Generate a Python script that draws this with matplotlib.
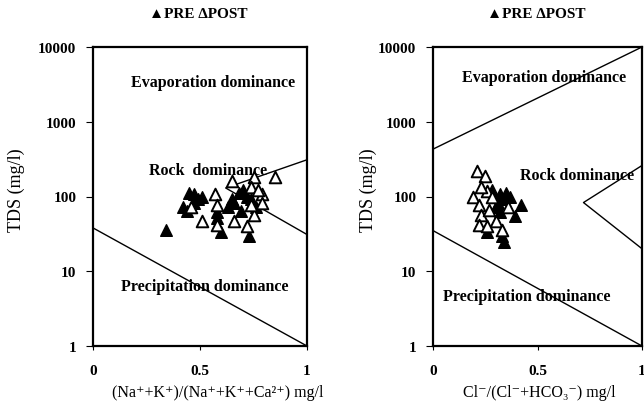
import matplotlib
matplotlib.use("Agg")
import matplotlib.pyplot as plt

plt.rcParams['font.family'] = ['Liberation Serif', 'DejaVu Serif', 'DejaVu Sans']
plt.rcParams['font.weight'] = 'bold'

# Gibbs plot 1: (Na+K)/(Na+K+Ca) vs TDS
cat_pre_x = [0.34, 0.45, 0.47, 0.51, 0.42, 0.44, 0.47, 0.49, 0.58, 0.58, 0.60,
             0.63, 0.65, 0.66, 0.68, 0.70, 0.69, 0.72, 0.73, 0.74, 0.76]
cat_pre_y = [36, 112, 107, 100, 73, 63, 83, 92, 62, 52, 34,
             73, 92, 83, 112, 124, 63, 100, 30, 92, 73]
cat_post_x = [0.65, 0.75, 0.85, 0.74, 0.57, 0.58, 0.46, 0.51, 0.58, 0.66,
              0.72, 0.75, 0.74, 0.79, 0.79, 0.77]
cat_post_y = [160, 185, 180, 135, 107, 78, 72, 47, 42, 47,
              40, 57, 78, 107, 83, 124]

# Gibbs plot 2: Cl/(Cl+HCO3) vs TDS
an_pre_x = [0.28, 0.32, 0.35, 0.31, 0.33, 0.42, 0.39, 0.26, 0.33, 0.34,
            0.32, 0.30, 0.37]
an_pre_y = [124, 107, 112, 83, 92, 78, 55, 34, 30, 25, 62, 72, 97]
an_post_x = [0.21, 0.25, 0.19, 0.22, 0.26, 0.23, 0.27, 0.22, 0.30, 0.33,
             0.36, 0.28, 0.26, 0.23]
an_post_y = [218, 186, 100, 78, 117, 57, 67, 42, 47, 36, 73, 100, 40, 135]

# boundary curves
cat_upper_x = [1.0, 0.62, 1.0]
cat_upper_y = [310, 130, 31]
cat_lower_x = [0.0, 1.0]
cat_lower_y = [38, 1]
an_top_x = [0.0, 1.0]
an_top_y = [430, 10000]
an_mid_x = [1.0, 0.72, 1.0]
an_mid_y = [260, 83, 20]
an_lower_x = [0.0, 1.0]
an_lower_y = [35, 1]

fig = plt.figure(figsize=(6.44, 4.06), dpi=100)
ax1 = fig.add_axes([93 / 644, 59 / 406, 214 / 644, 299 / 406])
ax2 = fig.add_axes([433 / 644, 59 / 406, 209 / 644, 299 / 406])


def style(ax):
    ax.set_yscale('log')
    ax.set_xlim(0, 1)
    ax.set_ylim(1, 10000)
    ax.set_yticks([1, 10, 100, 1000, 10000])
    ax.set_yticklabels(['1', '10', '100', '1000', '10000'])
    ax.set_xticks([0, 0.5, 1])
    ax.set_xticklabels(['0', '0.5', '1'])
    ax.minorticks_off()
    ax.tick_params(direction='out', length=5, width=0.8, labelsize=11, pad=7)
    ax.tick_params(axis='x', length=3, pad=10)
    for s in ax.spines.values():
        s.set_linewidth(1.6)


style(ax1)
style(ax2)

ax1.plot(cat_upper_x, cat_upper_y, color='black', lw=1)
ax1.plot(cat_lower_x, cat_lower_y, color='black', lw=1)
ax2.plot(an_top_x, an_top_y, color='black', lw=1)
ax2.plot(an_mid_x, an_mid_y, color='black', lw=1)
ax2.plot(an_lower_x, an_lower_y, color='black', lw=1)

for ax, px, py, qx, qy in [(ax1, cat_pre_x, cat_pre_y, cat_post_x, cat_post_y),
                           (ax2, an_pre_x, an_pre_y, an_post_x, an_post_y)]:
    ax.scatter(px, py, marker='^', s=70, c='black', zorder=3)
    ax.scatter(qx, qy, marker='^', s=70, facecolors='white', edgecolors='black',
               linewidths=1.4, zorder=3)

tk = dict(fontsize=11.5, fontweight='bold', ha='center', va='center')
ax1.text(0.56, 10 ** 3.53, 'Evaporation dominance', **tk)
ax1.text(0.54, 10 ** 2.36, 'Rock  dominance', **tk)
ax1.text(0.52, 10 ** 0.80, 'Precipitation dominance', **tk)
ax2.text(0.53, 10 ** 3.60, 'Evaporation dominance', **tk)
ax2.text(0.69, 10 ** 2.29, 'Rock dominance', **tk)
ax2.text(0.45, 10 ** 0.67, 'Precipitation dominance', **tk)

fig.text(198 / 644, 1 - 15 / 406, '▲PRE ∆POST', fontsize=11, ha='center', va='center')
fig.text(536 / 644, 1 - 15 / 406, '▲PRE ∆POST', fontsize=11, ha='center', va='center')

fig.text(16 / 644, 1 - 190 / 406, 'TDS (mg/l)', fontsize=13, fontweight='normal',
         rotation=90, ha='center', va='center')
fig.text(368 / 644, 1 - 190 / 406, 'TDS (mg/l)', fontsize=13, fontweight='normal',
         rotation=90, ha='center', va='center')

fig.text(218 / 644, 1 - 393 / 406, '(Na⁺+K⁺)/(Na⁺+K⁺+Ca²⁺) mg/l', fontsize=11.5,
         fontweight='normal', ha='center', va='center')
fig.text(539 / 644, 1 - 393 / 406, 'Cl⁻/(Cl⁻+HCO₃⁻) mg/l', fontsize=11.5,
         fontweight='normal', ha='center', va='center')

fig.savefig('out.png', dpi=100)
